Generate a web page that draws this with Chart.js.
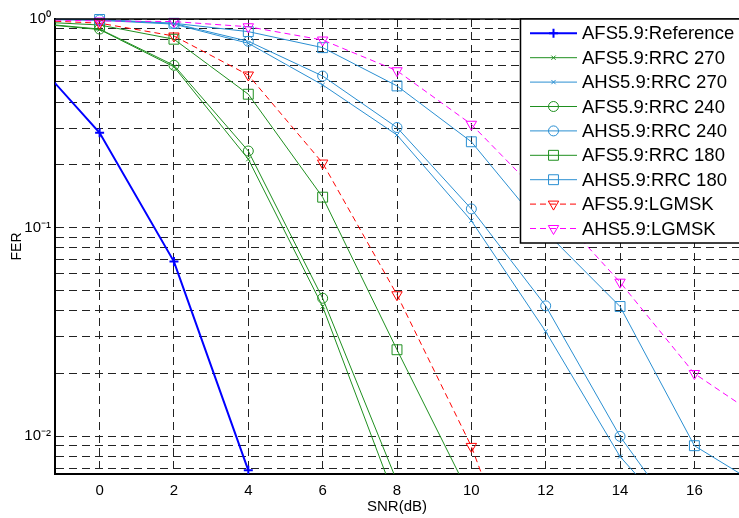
<!DOCTYPE html>
<html>
<head>
<meta charset="utf-8">
<script src="https://cdn.jsdelivr.net/npm/chart.js@4.4.1/dist/chart.umd.min.js"></script>
<style>
html,body{margin:0;padding:0;background:#fff;overflow:hidden}
#wrap{position:relative;width:739px;height:518px}
</style>
</head>
<body>
<div id="wrap"><canvas id="c" width="739" height="518"></canvas></div>
<script>
// ---------- data ----------
const snrDb = [-2, 0, 2, 4, 6, 8, 10, 12, 14, 16, 18];
const seriesNames = ['AFS5.9:Reference', 'AFS5.9:RRC 270', 'AHS5.9:RRC 270', 'AFS5.9:RRC 240',
  'AHS5.9:RRC 240', 'AFS5.9:RRC 180', 'AHS5.9:RRC 180', 'AFS5.9:LGMSK', 'AHS5.9:LGMSK'];
const afsReference = [0.71, 0.285, 0.0688, 0.00687];
const afsRrc270 = [0.96, 0.89, 0.59, 0.213, 0.0419, 0.00476];
const ahsRrc270 = [0.998, 0.985, 0.945, 0.765, 0.483, 0.278, 0.108, 0.0318, 0.0080, 0.0032];
const afsRrc240 = [0.965, 0.895, 0.60, 0.233, 0.0459, 0.00608];
const ahsRrc240 = [0.998, 0.99, 0.952, 0.782, 0.533, 0.302, 0.123, 0.0422, 0.0100, 0.0032];
const afsRrc180 = [0.975, 0.936, 0.80, 0.436, 0.140, 0.026, 0.00503];
const ahsRrc180 = [1.0, 0.995, 0.954, 0.87, 0.729, 0.478, 0.258, 0.0955, 0.0419, 0.00902, 0.00546];
const afsLgmsk = [0.99, 0.955, 0.829, 0.539, 0.204, 0.0477, 0.00895, 0.001];
const ahsLgmsk = [0.995, 0.978, 0.972, 0.918, 0.793, 0.565, 0.313, 0.135, 0.0548, 0.020, 0.0115];
const xTickValues = [0, 2, 4, 6, 8, 10, 12, 14, 16];
const yTickValues = [0.007, 0.008, 0.009, 0.01, 0.02, 0.03, 0.04, 0.05, 0.06, 0.07, 0.08, 0.09,
  0.1, 0.2, 0.3, 0.4, 0.5, 0.6, 0.7, 0.8, 0.9, 1];
const yTickLabels = [[1, '10\u2070'], [0.1, '10\u207B\u00B9'], [0.01, '10\u207B\u00B2']];
const xAxisTitle = 'SNR(dB)';
const yAxisTitle = 'FER';

// ---------- styles ----------
const GREEN = '#1f8f1f', LBLUE = '#2a8fd2';
const seriesValues = [afsReference, afsRrc270, ahsRrc270, afsRrc240, ahsRrc240, afsRrc180, ahsRrc180, afsLgmsk, ahsLgmsk];
const seriesStyles = [
  {color: '#0000ff', width: 2, dash: [], point: 'cross', r: 4.5, rot: 0, pw: 2},
  {color: GREEN, width: 1, dash: [], point: 'crossRot', r: 3, rot: 0, pw: 1},
  {color: LBLUE, width: 1, dash: [], point: 'crossRot', r: 3, rot: 0, pw: 1},
  {color: GREEN, width: 1, dash: [], point: 'circle', r: 5, rot: 0, pw: 1},
  {color: LBLUE, width: 1, dash: [], point: 'circle', r: 5, rot: 0, pw: 1},
  {color: GREEN, width: 1, dash: [], point: 'rect', r: 7, rot: 0, pw: 1},
  {color: LBLUE, width: 1, dash: [], point: 'rect', r: 7, rot: 0, pw: 1},
  {color: '#ff0000', width: 1, dash: [6, 4], point: 'triangle', r: 6, rot: 180, pw: 1},
  {color: '#ff00ff', width: 1, dash: [6, 4], point: 'triangle', r: 6, rot: 180, pw: 1}
];

const datasets = seriesNames.map((name, i) => {
  const s = seriesStyles[i];
  return {
    label: name,
    data: seriesValues[i].map((v, k) => ({x: snrDb[k], y: v})),
    borderColor: s.color,
    borderWidth: s.width,
    borderDash: s.dash,
    backgroundColor: 'rgba(0,0,0,0)',
    pointStyle: s.point,
    pointRadius: s.r,
    pointRotation: s.rot,
    pointBorderWidth: s.pw,
    pointBorderColor: s.color,
    pointBackgroundColor: 'rgba(0,0,0,0)',
    pointHoverRadius: s.r,
    tension: 0,
    fill: false,
    clip: {left: 0, right: 0, top: 8, bottom: 0},
    order: 20 - i
  };
});

const FONT = '"Liberation Sans", Arial, Helvetica, sans-serif';

function drawMarker(ctx, s, x, y) {
  ctx.save();
  ctx.strokeStyle = s.color;
  ctx.fillStyle = 'rgba(0,0,0,0)';
  ctx.lineWidth = s.pw;
  ctx.setLineDash([]);
  if (Chart.helpers && Chart.helpers.drawPoint) {
    Chart.helpers.drawPoint(ctx, {pointStyle: s.point, radius: s.r, rotation: s.rot, borderWidth: s.pw}, x, y);
  }
  ctx.restore();
}

const frameAndLegend = {
  id: 'frameAndLegend',
  afterDraw(chart) {
    const ctx = chart.ctx, a = chart.chartArea;
    // top frame line
    ctx.save();
    ctx.strokeStyle = '#000';
    ctx.lineWidth = 1.5;
    ctx.beginPath();
    ctx.moveTo(a.left, a.top);
    ctx.lineTo(a.right, a.top);
    ctx.stroke();
    // legend box
    const bx = 520.5, by = a.top, bw = 240, bh = 243 - a.top;
    ctx.fillStyle = '#fff';
    ctx.fillRect(bx, by, bw, bh);
    ctx.lineWidth = 1.5;
    ctx.strokeRect(bx, by, bw, bh);
    ctx.font = '18.5px ' + FONT;
    ctx.textBaseline = 'middle';
    ctx.textAlign = 'left';
    seriesNames.forEach((name, i) => {
      const s = seriesStyles[i];
      const y = 33.3 + i * 24.4;
      ctx.save();
      ctx.strokeStyle = s.color;
      ctx.lineWidth = s.width;
      ctx.setLineDash(s.dash);
      ctx.beginPath();
      ctx.moveTo(530, y);
      ctx.lineTo(577, y);
      ctx.stroke();
      ctx.restore();
      drawMarker(ctx, s, 553.5, y);
      ctx.fillStyle = '#000';
      ctx.fillText(name, 582, y + 1);
    });
    ctx.restore();
  }
};

new Chart(document.getElementById('c'), {
  type: 'line',
  data: {datasets},
  plugins: [frameAndLegend],
  options: {
    responsive: false,
    animation: false,
    events: [],
    layout: {autoPadding: false, padding: {top: 19, left: 0, right: 0, bottom: 0}},
    plugins: {legend: {display: false}, tooltip: {enabled: false}, title: {display: false}},
    scales: {
      x: {
        type: 'linear',
        min: -1.2,
        max: 17.2,
        afterBuildTicks: (s) => { s.ticks = xTickValues.map(v => ({value: v})); },
        afterFit: (s) => { s.height = 44; s.paddingLeft = 0; s.paddingRight = 0; },
        grid: {color: '#222', lineWidth: 1, drawTicks: false},
        border: {display: true, color: '#000', width: 2, dash: [8, 5]},
        ticks: {autoSkip: false, maxRotation: 0, padding: 8, color: '#000', font: {family: FONT, size: 15}},
        title: {display: true, text: xAxisTitle, color: '#000', font: {family: FONT, size: 15}, padding: {top: 0, bottom: 2}}
      },
      y: {
        type: 'logarithmic',
        min: 0.0066,
        max: 1,
        afterBuildTicks: (s) => { s.ticks = yTickValues.map(v => ({value: v})); },
        afterFit: (s) => { s.width = 55; s.paddingTop = 0; s.paddingBottom = 0; },
        grid: {color: '#222', lineWidth: 1, drawTicks: false},
        border: {display: true, color: '#000', width: 2, dash: [8, 5]},
        ticks: {
          autoSkip: false, padding: 4, color: '#000', font: {family: FONT, size: 15},
          callback: (v) => {
            const hit = yTickLabels.find(p => Math.abs(p[0] - v) / p[0] < 1e-6);
            return hit ? hit[1] : '';
          }
        },
        title: {display: true, text: yAxisTitle, color: '#000', font: {family: FONT, size: 14}, padding: {top: 9, bottom: 0}}
      }
    }
  }
});
</script>
</body>
</html>
